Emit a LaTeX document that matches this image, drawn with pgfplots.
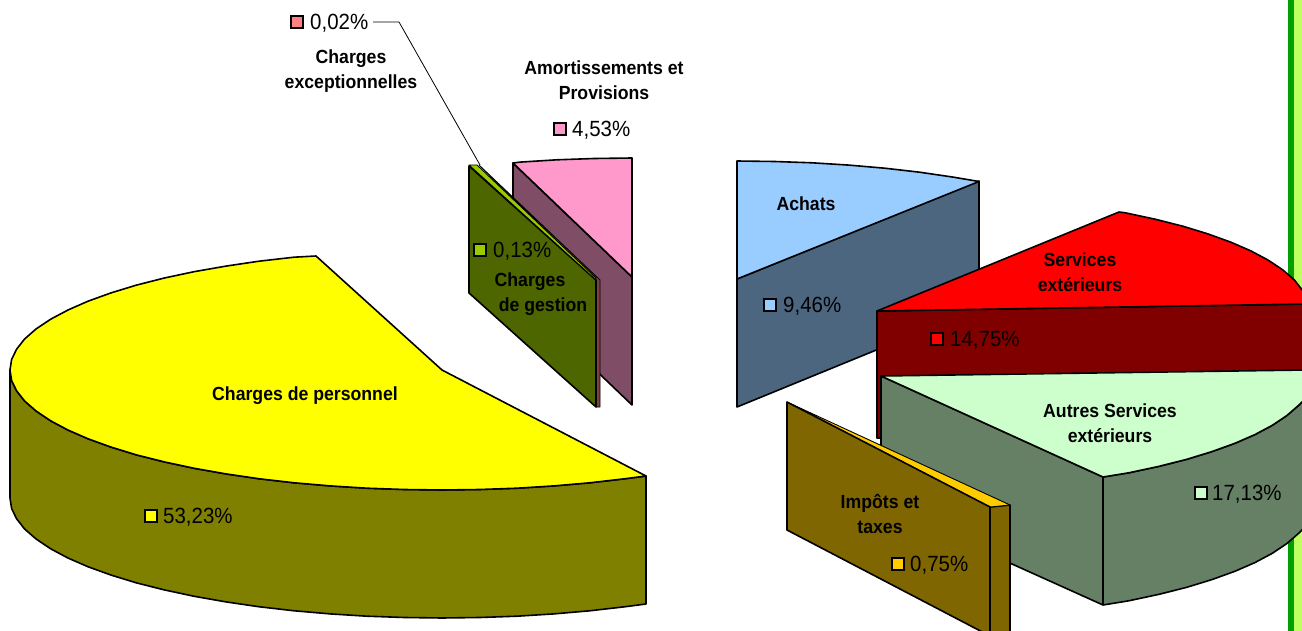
\documentclass[border=0pt]{standalone}
\usepackage{pgfplots}
\pgfplotsset{compat=1.18}
\usepackage{fontspec}
\setmainfont{Liberation Sans}
\newfontfamily\serre[FakeStretch=0.93]{Liberation Sans}

\definecolor{jaune}{HTML}{FFFF00}
\definecolor{jauneS}{HTML}{808000}
\definecolor{bleu}{HTML}{99CCFF}
\definecolor{bleuS}{HTML}{4D6680}
\definecolor{rouge}{HTML}{FF0000}
\definecolor{rougeS}{HTML}{800000}
\definecolor{vert}{HTML}{CCFFCC}
\definecolor{vertS}{HTML}{668066}
\definecolor{or}{HTML}{FFCC00}
\definecolor{orS}{HTML}{806600}
\definecolor{rose}{HTML}{FF99CC}
\definecolor{roseS}{HTML}{804D66}
\definecolor{lime}{HTML}{99CC00}
\definecolor{limeS}{HTML}{4D6600}
\definecolor{saumon}{HTML}{FF8080}
\definecolor{saumonS}{HTML}{804040}
\definecolor{barre}{HTML}{00A000}
\definecolor{barreL}{HTML}{C0FF60}

\tikzset{
    part/.style={draw=black, line width=1.6pt, line join=round},
    lab/.style={font=\serre\fontsize{19}{25}\selectfont\bfseries, align=center, anchor=center, inner sep=0pt},
    pct/.style={font=\serre\fontsize{22}{25}\selectfont, anchor=west, inner sep=0pt},
    key/.style={only marks, mark=square*, mark size=6.2pt, mark options={draw=black, line width=1.5pt, fill=#1}},
}

\begin{document}
\begin{tikzpicture}
\path[use as bounding box] (0,0) rectangle (1302pt,631pt);
\begin{axis}[
    at={(0,0)}, anchor=south west,
    width=1302pt, height=631pt,
    scale only axis,
    xmin=0, xmax=1302,
    ymin=0, ymax=631,
    y dir=reverse,
    axis lines=none,
    clip=true,
]
% bande verte a droite
\addplot[draw=none, fill=barre] coordinates {(1288,0)(1294,0)(1294,631)(1288,631)} -- cycle;
\addplot[draw=none, fill=barreL] coordinates {(1294,0)(1302,0)(1302,631)(1294,631)} -- cycle;

% Amortissements
\addplot[part, fill=roseS] coordinates {(513,163)(632,277)(632,405)(513,291)} -- cycle;
\addplot[part, fill=rose] coordinates {(632,158)(594.3,158.5)(557,159.8)(520.2,162.1)(513,163)(632,277)} -- cycle;
% Charges exceptionnelles
\addplot[part, line width=0.9pt, fill=saumonS] coordinates {(479,165)(600,280)(600,407)(596,407)(596,280)} -- cycle;
% Charges de gestion
\addplot[part, fill=limeS] coordinates {(469,166)(596,280)(596,407)(469,293)} -- cycle;
\addplot[part, line width=0.9pt, fill=lime] coordinates {(469,165)(477,165)(596,278)(596,280)} -- cycle;

% Charges de personnel
\addplot[part, fill=jauneS] coordinates {
    (10,370)(11.6,380.5)(16.6,390.8)(24.7,401.1)(36.1,411)(50.5,420.7)(67.9,430)(88.1,438.8)
    (111.1,447.1)(136.5,454.9)(164.3,461.9)(194.2,468.3)(226,473.9)(259.4,478.8)(294.3,482.8)
    (330.2,485.9)(367,488.2)(404.3,489.5)(442,490)(479.7,489.5)(517,488.2)(553.8,485.9)
    (589.7,482.8)(624.6,478.8)(646,476)
    (646,604)(624.6,606.8)(589.7,610.8)(553.8,613.9)(517,616.2)(479.7,617.5)(442,618)(404.3,617.5)
    (367,616.2)(330.2,613.9)(294.3,610.8)(259.4,606.8)(226,601.9)(194.2,596.3)(164.3,589.9)
    (136.5,582.9)(111.1,575.1)(88.1,566.8)(67.9,558)(50.5,548.7)(36.1,539)(24.7,529.1)
    (16.6,518.8)(11.6,508.5)(10,498)} -- cycle;
\addplot[part, fill=jaune] coordinates {
    (316,256)(294,257.2)(259,261.2)(226,266.1)(194,271.7)(164,278.1)(136.5,285.1)(111,292.9)
    (88,301.2)(68,310)(50.5,319.3)(36,329)(24.7,338.9)(16.6,349.2)(11.6,359.5)(10,370)
    (11.6,380.5)(16.6,390.8)(24.7,401.1)(36.1,411)(50.5,420.7)(67.9,430)(88.1,438.8)
    (111.1,447.1)(136.5,454.9)(164.3,461.9)(194.2,468.3)(226,473.9)(259.4,478.8)(294.3,482.8)
    (330.2,485.9)(367,488.2)(404.3,489.5)(442,490)(479.7,489.5)(517,488.2)(553.8,485.9)
    (589.7,482.8)(624.6,478.8)(646,476)(442,370)} -- cycle;

% Achats
\addplot[part, fill=bleuS] coordinates {(737,279)(979,181)(979,308)(737,407)} -- cycle;
\addplot[part, fill=bleu] coordinates {(737,161)(774.7,161.5)(812,162.8)(848.8,165.1)(884.7,168.2)(919.6,172.2)(953,177.1)(979,181.5)(737,279)} -- cycle;

% Services exterieurs
\addplot[part, fill=rougeS] coordinates {(877,311)(1306,304)(1306,431)(877,438)} -- cycle;
\addplot[part, fill=rouge] coordinates {(877,311)(1119,212)(1124.8,212.7)(1154.7,219.1)(1182.5,226.1)(1207.9,233.9)(1230.9,242.2)(1251.1,251)(1268.5,260.3)(1282.9,270)(1294.3,279.9)(1302.4,290.2)(1306,296)(1306,304)} -- cycle;

% Autres services exterieurs
\addplot[part, fill=vertS] coordinates {
    (881,376)(1103,477)(1128.8,472.8)(1158.7,466.4)(1186.5,459.4)(1211.9,451.6)(1234.9,443.3)
    (1255.1,434.5)(1272.5,425.2)(1286.9,415.5)(1298.3,405.6)(1306,398)
    (1306,526)(1298.3,533.6)(1286.9,543.5)(1272.5,553.2)(1255.1,562.5)(1234.9,571.3)(1211.9,579.6)
    (1186.5,587.4)(1158.7,594.4)(1128.8,600.8)(1103,605)(881,505)} -- cycle;
\addplot[part, fill=vert] coordinates {
    (881,376)(1306,370)(1306,398)(1298.3,405.6)(1286.9,415.5)(1272.5,425.2)(1255.1,434.5)(1234.9,443.3)
    (1211.9,451.6)(1186.5,459.4)(1158.7,466.4)(1128.8,472.8)(1103,477)} -- cycle;
\addplot[part] coordinates {(1103,477)(1103,605)};

% Impots et taxes
\addplot[part, fill=orS] coordinates {(990,507)(1010,505)(1010,640)(990,640)} -- cycle;
\addplot[part, line width=0.9pt, fill=or] coordinates {(787,402)(1010,505)(990,507)} -- cycle;
\addplot[part, fill=orS] coordinates {(787,402)(990,507)(990,636)(787,530)} -- cycle;

% trait de rappel
\addplot[black, line width=0.8pt] coordinates {(373,22)(399,22)(480,165)};

% cles de legende
\addplot[key=saumon] coordinates {(297,22)};
\addplot[key=rose] coordinates {(560,129)};
\addplot[key=lime] coordinates {(480,250)};
\addplot[key=bleu] coordinates {(770,305)};
\addplot[key=rouge] coordinates {(937,339)};
\addplot[key=vert] coordinates {(1201,493)};
\addplot[key=or] coordinates {(898,564)};
\addplot[key=jaune] coordinates {(151,516)};

% textes
\node[pct] at (axis cs:310,23) {0,02\%};
\node[lab] at (axis cs:351,71.5) {Charges\\exceptionnelles};
\node[lab] at (axis cs:604,80.5) {Amortissements et\\Provisions};
\node[pct] at (axis cs:572,130) {4,53\%};
\node[lab] at (axis cs:806,204) {Achats};
\node[pct] at (axis cs:783,306) {9,46\%};
\node[lab] at (axis cs:1080,272) {Services\\extérieurs};
\node[pct] at (axis cs:950,340) {14,75\%};
\node[lab] at (axis cs:1110,423.5) {Autres Services\\extérieurs};
\node[pct] at (axis cs:1212,494) {17,13\%};
\node[lab] at (axis cs:880,513.5) {Impôts et\\taxes};
\node[pct] at (axis cs:910,565) {0,75\%};
\node[lab] at (axis cs:530,282) {Charges};
\node[lab] at (axis cs:543,307) {de gestion};
\node[pct] at (axis cs:493,251) {0,13\%};
\node[lab] at (axis cs:305,396) {Charges de personnel};
\node[pct] at (axis cs:163,517) {53,23\%};
\end{axis}
\end{tikzpicture}
\end{document}
